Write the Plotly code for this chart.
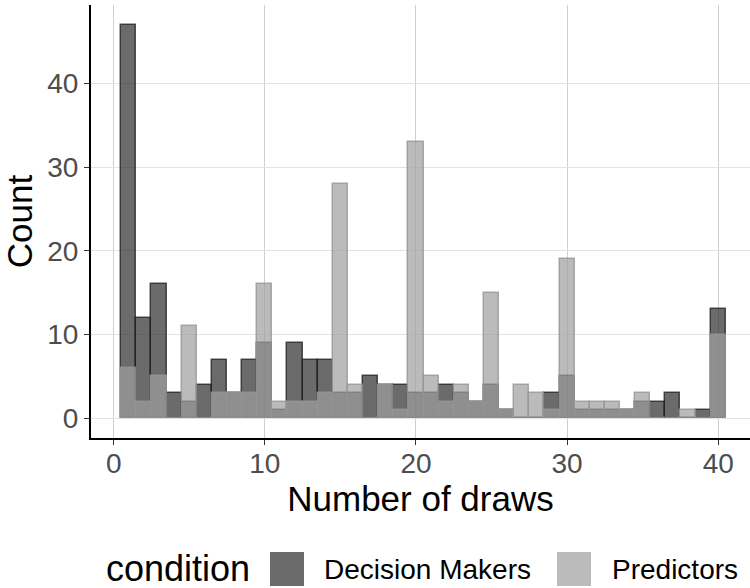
import plotly.graph_objects as go

draws = list(range(1, 41))
decision_makers = [47, 12, 16, 3, 2, 4, 7, 3, 7, 9,
                   1, 9, 7, 7, 3, 3, 5, 4, 4, 3,
                   3, 4, 3, 2, 4, 1, 0, 0, 3, 5,
                   1, 1, 1, 1, 2, 2, 3, 0, 1, 13]
predictors = [6, 2, 5, 0, 11, 0, 3, 3, 3, 16,
              2, 2, 2, 3, 28, 4, 0, 4, 1, 33,
              5, 2, 4, 2, 15, 1, 4, 3, 1, 19,
              2, 2, 2, 1, 3, 0, 0, 1, 0, 10]
series_names = ["Decision Makers", "Predictors"]
x_ticks = [0, 10, 20, 30, 40]
y_ticks = [0, 10, 20, 30, 40]

FONT = "Liberation Sans, Arial, sans-serif"
dm_fill = "rgba(44,44,44,0.7)"
pr_fill = "rgba(158,158,158,0.7)"

fig = go.Figure()
fig.add_trace(go.Bar(x=draws, y=decision_makers, width=1, name=series_names[0],
                     marker=dict(color=dm_fill, line=dict(color="rgba(30,30,30,0.75)", width=1.5)),
                     showlegend=False))
fig.add_trace(go.Bar(x=draws, y=predictors, width=1, name=series_names[1],
                     marker=dict(color=pr_fill, line=dict(color="rgba(150,150,150,0.8)", width=1.5)),
                     showlegend=False))

L, R, T, B = 91, 750, 5, 438
W, H = 750, 588
def px(x):
    return (x - L) / (R - L)
def py(y):
    return (B - y) / (B - T)

fig.update_layout(
    width=W, height=H, barmode="overlay", bargap=0,
    margin=dict(l=L, r=W - R, t=T, b=H - B),
    plot_bgcolor="white", paper_bgcolor="white",
    font=dict(family=FONT),
    xaxis=dict(range=[-1.5, 42.1], tickvals=x_ticks, ticktext=[str(v) for v in x_ticks],
               showgrid=True, gridcolor="#cfcfcf", gridwidth=1, zeroline=False,
               showline=True, linecolor="black", linewidth=2,
               ticks="outside", ticklen=5, tickcolor="#333333", tickwidth=1,
               ticklabelstandoff=-6,
               tickfont=dict(size=28, color="#4d4d4d", family=FONT),
               title=dict(text="Number of draws", font=dict(size=35, color="black", family=FONT), standoff=0)),
    yaxis=dict(range=[-2.35, 49.35], tickvals=y_ticks, ticktext=[str(v) for v in y_ticks],
               showgrid=True, gridcolor="#e3e3e3", gridwidth=1, zeroline=False,
               showline=True, linecolor="black", linewidth=2,
               ticks="outside", ticklen=5, tickcolor="#333333", tickwidth=1,
               tickfont=dict(size=28, color="#4d4d4d", family=FONT),
               title=dict(text="Count", font=dict(size=35, color="black", family=FONT), standoff=4)),
)

# legend drawn manually
fig.add_annotation(x=px(104), y=py(568), xref="paper", yref="paper", text="condition",
                   showarrow=False, xanchor="left", yanchor="middle",
                   font=dict(size=36, color="black", family=FONT))
legend_items = [(270, 322, dm_fill, series_names[0]), (557, 610, pr_fill, series_names[1])]
for sx, tx, col, name in legend_items:
    fig.add_shape(type="rect", xref="paper", yref="paper",
                  x0=px(sx), x1=px(sx + 34), y0=py(552), y1=py(586),
                  fillcolor=col, line=dict(width=0))
    fig.add_annotation(x=px(tx), y=py(569), xref="paper", yref="paper", text=name,
                       showarrow=False, xanchor="left", yanchor="middle",
                       font=dict(size=28, color="black", family=FONT))

fig.write_html("out.html")
